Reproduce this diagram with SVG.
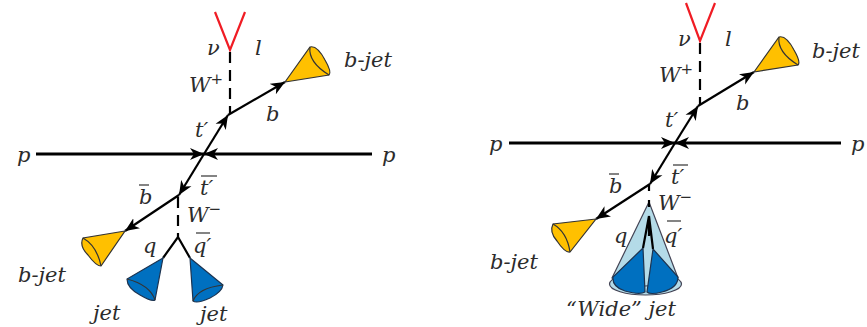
<svg xmlns="http://www.w3.org/2000/svg" width="867" height="327" viewBox="0 0 867 327">
<style>
text{font-family:"DejaVu Serif","Liberation Serif",serif;font-style:italic;font-size:21px;fill:#2b2b2b}
.ln{stroke:#000;stroke-width:2.2;fill:none}
.beam{stroke:#000;stroke-width:3;fill:none}
.dash{stroke:#000;stroke-width:2.2;fill:none;stroke-dasharray:11 7}
.red{stroke:#f01c24;stroke-width:2.2;fill:none}
.bar{stroke:#333;stroke-width:1.2}
.y{fill:#ffc000;stroke:#333;stroke-width:1.2}
.b{fill:#0070c0;stroke:#1c3350;stroke-width:1.2}
.lb{fill:#b4dbe8;stroke:#445;stroke-width:1.2}
.e{fill:none;stroke:#333;stroke-width:1.2}
</style>
<defs>
<marker id="a" markerUnits="userSpaceOnUse" markerWidth="16" markerHeight="14" refX="14" refY="7" orient="auto"><path d="M0 1 L14 7 L0 13 L4 7Z" fill="#000"/></marker>
</defs>
<g id="connectors">
<path class="red" d="M215 12L230 50L245 12"/>
<path class="dash" d="M230 52V113"/>
<path class="beam" d="M36 154H204" marker-end="url(#a)"/>
<path class="beam" d="M372 154H204" marker-end="url(#a)"/>
<path class="ln" d="M204 154L228 115" marker-end="url(#a)"/>
<path class="ln" d="M228 115L285 82" marker-end="url(#a)"/>
<path class="ln" d="M204 154L179 195" marker-end="url(#a)"/>
<path class="ln" d="M179 195L125 231" marker-end="url(#a)"/>
<path class="dash" d="M178 197V237"/>
<path class="ln" d="M163 258L178 237L190 258"/>
<path class="red" d="M686 3L700 41L715 3"/>
<path class="dash" d="M700 43V104"/>
<path class="beam" d="M509 143H675" marker-end="url(#a)"/>
<path class="beam" d="M841 143H675" marker-end="url(#a)"/>
<path class="ln" d="M675 143L698 106" marker-end="url(#a)"/>
<path class="ln" d="M698 106L754 72" marker-end="url(#a)"/>
<path class="ln" d="M675 143L650 184" marker-end="url(#a)"/>
<path class="ln" d="M650 184L596 219" marker-end="url(#a)"/>
<path class="ln" d="M649 184V191"/>
</g>
<g id="left-bjet-top"><path class="y" d="M285 82L310 47Q317 45 325 60Q332 72 329 75Z"/><path class="e" d="M310 47Q308 62 329 75"/></g>
<g id="left-bjet-bottom"><path class="y" d="M125 231L83 238Q79 246 88 255Q96 266 101 266Z"/><path class="e" d="M83 238Q97 246 101 266"/></g>
<g id="left-jet-1"><path class="b" d="M163 258L127 279Q127 288 140 295Q152 302 155 300Z"/><path class="e" d="M127 279Q150 285 155 300"/></g>
<g id="left-jet-2"><path class="b" d="M190 258L223 285Q222 292 210 298Q197 304 193 301Z"/><path class="e" d="M223 285Q198 288 193 301"/></g>
<g id="right-bjet-top"><path class="y" d="M754 72L779 37Q786 35 794 50Q801 62 798 65Z"/><path class="e" d="M779 37Q777 52 798 65"/></g>
<g id="right-bjet-bottom"><path class="y" d="M596 219L553 224Q549 232 557 241Q565 253 570 252Z"/><path class="e" d="M553 224Q567 232 570 252"/></g>
<g id="wide-jet">
<ellipse class="lb" cx="645.5" cy="284" rx="36" ry="11" fill="#cfe6ee"/>
<path class="lb" d="M649 202L612 278Q645 294 678 278Z"/>
<path class="b" d="M643 248L613 277Q612 287 625 291Q640 295 645 292Z"/>
<path class="b" d="M653 249L678 277Q678 288 662 292Q650 295 647 292Z"/>
<path class="ln" d="M649 216L643 248M649 216L653 249M649 216V236"/>
<path class="ln" d="M649 200V207"/>
</g>
<g id="labels">
<text x="207" y="55">ν</text><text x="255" y="55">l</text>
<text x="344" y="67">b-jet</text>
<text x="189" y="92">W<tspan dy="-8" font-size="15">+</tspan></text>
<text x="266" y="121">b</text>
<text x="195" y="137">t′</text>
<text x="17" y="162">p</text><text x="382" y="162">p</text>
<text x="139" y="204">b</text><path class="bar" d="M139 185H149"/>
<text x="200" y="195">t′</text><path class="bar" d="M201 176H217"/>
<text x="187" y="222">W<tspan dy="-8" font-size="15">−</tspan></text>
<text x="143" y="253">q</text>
<text x="193" y="253">q′</text><path class="bar" d="M196 233H210"/>
<text x="18" y="282">b-jet</text>
<text x="93" y="320">jet</text>
<text x="200" y="321">jet</text>
<text x="678" y="46">ν</text><text x="725" y="46">l</text>
<text x="812" y="58">b-jet</text>
<text x="659" y="82">W<tspan dy="-8" font-size="15">+</tspan></text>
<text x="736" y="110">b</text>
<text x="665" y="127">t′</text>
<text x="489" y="151">p</text><text x="851" y="151">p</text>
<text x="609" y="193">b</text><path class="bar" d="M609 174H619"/>
<text x="671" y="184">t′</text><path class="bar" d="M673 165H688"/>
<text x="658" y="210">W<tspan dy="-8" font-size="15">−</tspan></text>
<text x="614" y="243">q</text>
<text x="664" y="243">q′</text><path class="bar" d="M667 221H681"/>
<text x="490" y="269">b-jet</text>
<text x="566" y="316">“Wide” jet</text>
</g>
</svg>
